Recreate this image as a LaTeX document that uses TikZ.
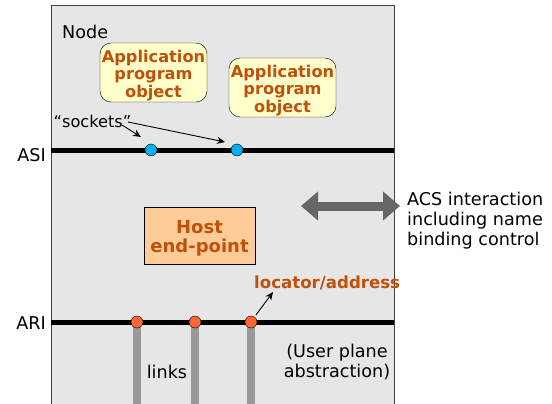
\documentclass[tikz,border=0pt]{standalone}
\usepackage{fontspec}
\setmainfont{DejaVu Sans}
\usetikzlibrary{arrows.meta}
\definecolor{bgray}{HTML}{E6E6E6}
\definecolor{txtor}{HTML}{C0500A}
\definecolor{appfill}{HTML}{FFFFCC}
\definecolor{hostfill}{HTML}{FFCC99}
\definecolor{sockblue}{HTML}{00B0F0}
\definecolor{locor}{HTML}{FF6633}
\definecolor{linkgray}{HTML}{999999}
\definecolor{dblgray}{HTML}{666666}
\tikzset{
  appbox/.style={draw=black, fill=appfill, rounded corners=11pt, minimum width=107pt, minimum height=59pt, inner sep=0pt},
  apptext/.style={align=center, font=\fontsize{16.2}{17.3}\selectfont\bfseries, text=txtor, inner sep=0pt},
  hostbox/.style={draw=black, fill=hostfill, minimum width=111pt, minimum height=57pt, inner sep=0pt},
  hosttext/.style={align=center, font=\fontsize{18}{19}\selectfont\bfseries, text=txtor, inner sep=0pt},
  plain/.style={font=\fontsize{17.6}{20}\selectfont, inner sep=0pt},
  sock/.style={circle, draw=black, fill=sockblue, minimum size=12pt, inner sep=0pt},
  loc/.style={circle, draw=black, fill=locor, minimum size=12pt, inner sep=0pt},
  iface/.style={line width=5pt},
  link/.style={line width=8pt, draw=linkgray},
  thinarrow/.style={-{Stealth[length=8pt,width=7pt]}, line width=0.9pt}
}
\begin{document}
\begin{tikzpicture}[x=1pt,y=-1pt]
\useasboundingbox (0,0) rectangle (552,404);
\fill[bgray] (51,6) rectangle (394,404);
\draw[line width=1pt, draw=black!75] (51,404) -- (51,6) -- (394,6) -- (394,404);
% interfaces
\coordinate (asiL) at (51,150);
\coordinate (asiR) at (394,150);
\coordinate (ariL) at (51,322);
\coordinate (ariR) at (394,322);
% links
\coordinate (l1b) at (137,404);
\coordinate (l2b) at (195,404);
\coordinate (l3b) at (251,404);
\coordinate (l1c) at (137,322);
\coordinate (l2c) at (195,322);
\coordinate (l3c) at (251,322);
\draw[link] (l1b) -- (l1c);
\draw[link] (l2b) -- (l2c);
\draw[link] (l3b) -- (l3c);
\draw[iface] (asiL) -- (asiR);
\draw[iface] (ariL) -- (ariR);
\node[sock] (s1) at (151,150) {};
\node[sock] (s2) at (237,150) {};
\node[loc] (l1) at (l1c) {};
\node[loc] (l2) at (l2c) {};
\node[loc] (l3) at (l3c) {};
% labels
\node[plain, anchor=east] (asi) at (46,155) {ASI};
\node[plain, anchor=east] (ari) at (46,323) {ARI};
\node[plain, anchor=west] (node) at (62,32) {Node};
\node[appbox] (app1) at (153.5,72.5) {};
\node[apptext] (app1t) at ([yshift=-3pt]app1.center) {Application\\program\\object};
\node[appbox] (app2) at (282.5,87.5) {};
\node[apptext] (app2t) at ([yshift=-3pt]app2.center) {Application\\program\\object};
\node[font=\fontsize{16.2}{18}\selectfont, inner sep=0pt] (sockets) at (92.5,121) {``sockets''};
\coordinate (sa) at (122,125);
\coordinate (sb) at (128,122);
\draw[thinarrow] (sa) -- (141,137);
\draw[thinarrow] (sb) -- (225,142);
\node[hostbox] (host) at (199.5,235.5) {};
\node[hosttext] (hostt) at ([yshift=-2.5pt]host.center) {Host\\end-point};
\node[plain, anchor=west, align=left] (acs) at (407,221) {ACS interaction\\including name\\binding control};
\coordinate (dl) at (301,206);
\coordinate (dr) at (400,206);
\draw[draw=dblgray, line width=9pt, {Triangle[length=17pt,width=28pt]}-{Triangle[length=17pt,width=28pt]}] (dl) -- (dr);
\node[font=\fontsize{16.6}{18}\selectfont\bfseries, text=txtor, anchor=west, inner sep=0pt] (locad) at (254,283) {locator/address};
\draw[thinarrow] (l3) ++(5,-7) coordinate (la) (la) -- (273,292);
\node[plain] (links) at (167,372) {links};
\node[plain, align=center] (user) at (337,362) {(User plane\\abstraction)};
\end{tikzpicture}
\end{document}
